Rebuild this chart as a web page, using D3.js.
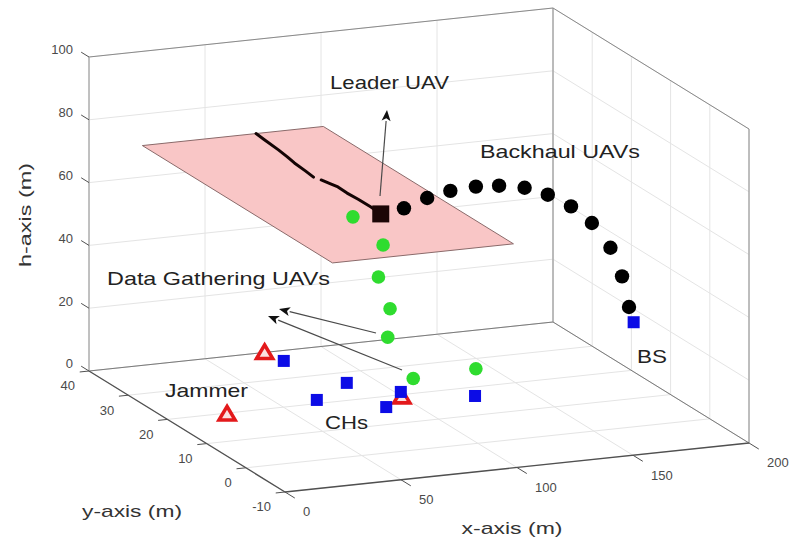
<!DOCTYPE html>
<html>
<head>
<meta charset="utf-8">
<script src="https://cdn.jsdelivr.net/npm/d3@7"></script>
<style>
  html, body { margin: 0; padding: 0; background: #fff; }
  svg { display: block; font-family: "Liberation Sans", Arial, Helvetica, sans-serif; }
</style>
</head>
<body>
<svg id="chart" width="792" height="546"></svg>
<script>
// ---- axis ranges and ticks ----
const xDomain = [0, 200];
const yDomain = [-10, 40];
const hDomain = [0, 100];
const xTicks = [0, 50, 100, 150, 200];
const yTicks = [-10, 0, 10, 20, 30, 40];
const hTicks = [0, 20, 40, 60, 80, 100];

// ---- cluster heads (ground, h = 0) ----
const chX = [77.7, 87.8, 66.6, 87.9, 102.3, 127.2];
const chY = [36.3, 26.2, 21.3, 16.2, 21.0, 16.8];
const chH = [0, 0, 0, 0, 0, 0];

// ---- jammers (ground) ----
const jammerX = [75.7, 25.2, 99.7];
const jammerY = [40, 19.7, 19.2];
const jammerH = [0, 0, 0];

// ---- base station ----
const bsX = [179];
const bsY = [7];
const bsH = [27];

// ---- leader UAV ----
const leaderX = [70];
const leaderY = [7];
const leaderH = [70];

// ---- leader trajectory over the flight plane (h = 70), two pieces ----
const pathAX = [72, 71.4, 70.5, 69.6, 68.6, 67.9, 67.2];
const pathAY = [40, 37.6, 33.4, 30.6, 28.2, 25.0, 22.5];
const pathBX = [68.3, 69.4, 70.3, 70.0, 70.4, 70.5, 70];
const pathBY = [21.2, 19.6, 18.1, 15.6, 13.0, 9.8, 7];
const pathH = 70;

// ---- backhaul UAV chain (y = 7) ----
const backhaulX = [80, 90, 100, 111, 121, 132, 142, 152, 161, 169, 174, 177];
const backhaulY = [7, 7, 7, 7, 7, 7, 7, 7, 7, 7, 7, 7];
const backhaulH = [71, 73.5, 75, 75.5, 75, 73.5, 70.5, 66, 60, 51.5, 42, 32];

// ---- data gathering UAVs ----
const gatherX = [58, 71, 69, 74, 73, 84, 111];
const gatherY = [7, 7, 7, 7, 7, 7, 7];
const gatherH = [70, 60, 50, 39.5, 30.5, 16.5, 17.5];

// ---- flight plane corners ----
const planeX = [23, 101, 101, 23];
const planeY = [40, 40, -8.5, -8.5];
const planeH = [70, 70, 70, 70];

// ---- annotation texts ----
const labelTexts = ["Leader UAV", "Backhaul UAVs", "Data Gathering UAVs", "Jammer", "CHs", "BS"];

// ================= projection =================
const svg = d3.select("#chart");
const xScale = d3.scaleLinear().domain(xDomain).range([0, 1]);
const yScale = d3.scaleLinear().domain(yDomain).range([0, 1]);
const hScale = d3.scaleLinear().domain(hDomain).range([0, 1]);

// screen position of (x=0, y=-10, h=0) and the screen span of each full axis
const origin = [285, 492];
const xVec = [464, -49];
const yVec = [-196, -121];
const hVec = [0, -314];

function project(x, y, h) {
  const a = xScale(x), b = yScale(y), c = hScale(h);
  return [origin[0] + a * xVec[0] + b * yVec[0] + c * hVec[0],
          origin[1] + a * xVec[1] + b * yVec[1] + c * hVec[1]];
}
const line = d3.line();
const zip3 = (X, Y, H) => X.map((v, i) => ({ x: v, y: Y[i], h: H[i] }));

function seg(g, a, b, color, width) {
  const p = project(...a), q = project(...b);
  g.append("line")
    .attr("x1", p[0]).attr("y1", p[1]).attr("x2", q[0]).attr("y2", q[1])
    .attr("stroke", color).attr("stroke-width", width);
}

const [x0, x1] = xDomain, [y0, y1] = yDomain, [h0, h1] = hDomain;

// ---- grid on floor and the two back walls ----
const grid = svg.append("g");
const gridColor = "#e4e4e4";
xTicks.forEach(x => {
  seg(grid, [x, y0, h0], [x, y1, h0], gridColor, 1);
  seg(grid, [x, y1, h0], [x, y1, h1], gridColor, 1);
});
yTicks.forEach(y => {
  seg(grid, [x0, y, h0], [x1, y, h0], gridColor, 1);
  seg(grid, [x1, y, h0], [x1, y, h1], gridColor, 1);
});
hTicks.forEach(h => {
  seg(grid, [x0, y1, h], [x1, y1, h], gridColor, 1);
  seg(grid, [x1, y0, h], [x1, y1, h], gridColor, 1);
});

// ---- box edges ----
const box = svg.append("g");
const edgeColor = "#8a8a8a";
seg(box, [x0, y1, h0], [x1, y1, h0], "#7a7a7a", 1);
seg(box, [x1, y1, h0], [x1, y0, h0], "#7a7a7a", 1);
seg(box, [x1, y1, h0], [x1, y1, h1], edgeColor, 1);
seg(box, [x1, y0, h0], [x1, y0, h1], edgeColor, 1);
seg(box, [x0, y1, h1], [x1, y1, h1], edgeColor, 1);
seg(box, [x1, y1, h1], [x1, y0, h1], edgeColor, 1);
// axis lines
const axisColor = "#505050";
seg(box, [x0, y0, h0], [x1, y0, h0], axisColor, 1.3);
seg(box, [x0, y0, h0], [x0, y1, h0], axisColor, 1.3);
seg(box, [x0, y1, h0], [x0, y1, h1], "#a0a0a0", 1.2);

// ---- ticks and tick labels ----
const tickFont = 13, tickColor = "#4a4a4a";
const ticks = svg.append("g");
xTicks.forEach(x => {
  seg(ticks, [x, y0, h0], [x, y0 - 2.5, h0], axisColor, 1);
  const p = project(x, y0, h0);
  ticks.append("text").attr("x", p[0] + 18).attr("y", p[1] + 21)
    .attr("dominant-baseline", "middle").attr("font-size", tickFont)
    .attr("fill", tickColor).text(x);
});
yTicks.forEach(y => {
  seg(ticks, [x0, y, h0], [x0 - 4, y, h0], axisColor, 1);
  const p = project(x0, y, h0);
  ticks.append("text").attr("x", p[0] - 14).attr("y", p[1] + 16)
    .attr("text-anchor", "end").attr("dominant-baseline", "middle")
    .attr("font-size", tickFont).attr("fill", tickColor).text(y);
});
hTicks.forEach(h => {
  seg(ticks, [x0, y1, h], [x0, y1 + 2, h], axisColor, 1);
  const p = project(x0, y1, h);
  ticks.append("text").attr("x", p[0] - 16).attr("y", p[1] - 6)
    .attr("text-anchor", "end").attr("dominant-baseline", "middle")
    .attr("font-size", tickFont).attr("fill", tickColor).text(h);
});

// ---- axis titles ----
const titleFont = 17, titleColor = "#333";
svg.append("text").attr("x", 512).attr("y", 530).attr("text-anchor", "middle")
  .attr("dominant-baseline", "middle").attr("font-size", titleFont).attr("fill", titleColor)
  .attr("textLength", 101).attr("lengthAdjust", "spacingAndGlyphs").text("x-axis (m)");
svg.append("text").attr("x", 132).attr("y", 513).attr("text-anchor", "middle")
  .attr("dominant-baseline", "middle").attr("font-size", titleFont).attr("fill", titleColor)
  .attr("textLength", 100).attr("lengthAdjust", "spacingAndGlyphs").text("y-axis (m)");
svg.append("text").attr("transform", "translate(27,215) rotate(-90)").attr("text-anchor", "middle")
  .attr("dominant-baseline", "middle").attr("font-size", titleFont).attr("fill", titleColor)
  .attr("textLength", 104).attr("lengthAdjust", "spacingAndGlyphs").text("h-axis (m)");

// ---- flight plane ----
const plane = zip3(planeX, planeY, planeH).map(d => project(d.x, d.y, d.h));
svg.append("path").attr("d", line(plane) + "Z")
  .attr("fill", "#f9c6c6").attr("stroke", "#8a6a6a").attr("stroke-width", 1);

// ---- leader trajectory ----
[[pathAX, pathAY], [pathBX, pathBY]].forEach(([PX, PY]) => {
  const pts = PX.map((v, i) => project(v, PY[i], pathH));
  svg.append("path").attr("d", line(pts)).attr("fill", "none")
    .attr("stroke", "#140404").attr("stroke-width", 3).attr("stroke-linejoin", "round")
    .attr("stroke-linecap", "round");
});

// ---- jammers ----
const tri = "M0,-7.5 L8,6 L-8,6 Z";
svg.append("g").selectAll("path").data(zip3(jammerX, jammerY, jammerH)).join("path")
  .attr("transform", d => `translate(${project(d.x, d.y, d.h)})`)
  .attr("d", tri).attr("fill", "#fbe0e0").attr("stroke", "#e3191b").attr("stroke-width", 3.6)
  .attr("stroke-linejoin", "miter");

// ---- cluster heads ----
const chSide = 12;
svg.append("g").selectAll("rect").data(zip3(chX, chY, chH)).join("rect")
  .attr("x", d => project(d.x, d.y, d.h)[0] - chSide / 2)
  .attr("y", d => project(d.x, d.y, d.h)[1] - chSide / 2)
  .attr("width", chSide).attr("height", chSide).attr("fill", "#0c0ce6");

// ---- data gathering UAVs ----
svg.append("g").selectAll("circle").data(zip3(gatherX, gatherY, gatherH)).join("circle")
  .attr("cx", d => project(d.x, d.y, d.h)[0])
  .attr("cy", d => project(d.x, d.y, d.h)[1])
  .attr("r", 6.8).attr("fill", "#2fdc2f");

// ---- backhaul chain ----
svg.append("g").selectAll("circle").data(zip3(backhaulX, backhaulY, backhaulH)).join("circle")
  .attr("cx", d => project(d.x, d.y, d.h)[0])
  .attr("cy", d => project(d.x, d.y, d.h)[1])
  .attr("r", 7.2).attr("fill", "#000");

// ---- base station ----
svg.append("g").selectAll("rect").data(zip3(bsX, bsY, bsH)).join("rect")
  .attr("x", d => project(d.x, d.y, d.h)[0] - chSide / 2)
  .attr("y", d => project(d.x, d.y, d.h)[1] - chSide / 2)
  .attr("width", chSide).attr("height", chSide).attr("fill", "#0c0ce6");

// ---- leader UAV ----
const leadSide = 17;
svg.append("g").selectAll("rect").data(zip3(leaderX, leaderY, leaderH)).join("rect")
  .attr("x", d => project(d.x, d.y, d.h)[0] - leadSide / 2)
  .attr("y", d => project(d.x, d.y, d.h)[1] - leadSide / 2)
  .attr("width", leadSide).attr("height", leadSide).attr("fill", "#1c0606");

// ---- annotation arrows ----
const arrows = [
  { from: [380, 196], to: [387, 110] },
  { from: [376, 333], to: [279, 309] },
  { from: [402, 370], to: [268, 316] }
];
const ann = svg.append("g");
arrows.forEach(a => {
  const [fx, fy] = a.from, [tx, ty] = a.to;
  const ang = Math.atan2(ty - fy, tx - fx);
  const len = 11, half = 4.5;
  const bx = tx - len * Math.cos(ang), by = ty - len * Math.sin(ang);
  ann.append("line").attr("x1", fx).attr("y1", fy).attr("x2", bx).attr("y2", by)
    .attr("stroke", "#4a4a4a").attr("stroke-width", 1.2);
  const nx = -Math.sin(ang), ny = Math.cos(ang);
  ann.append("path")
    .attr("d", `M${tx},${ty} L${bx + half * nx},${by + half * ny} L${bx + len * 0.25 * Math.cos(ang)},${by + len * 0.25 * Math.sin(ang)} L${bx - half * nx},${by - half * ny} Z`)
    .attr("fill", "#111");
});

// ---- annotation labels ----
const labelPos = [[330, 84, 119], [480, 153, 160], [107, 280, 223], [165, 392, 83], [325, 424, 43], [637, 358, 30]];
labelTexts.forEach((t, i) => {
  const [lx, ly, lw] = labelPos[i];
  ann.append("text").attr("x", lx).attr("y", ly).attr("dominant-baseline", "middle")
    .attr("font-size", 19).attr("fill", "#222")
    .attr("textLength", lw).attr("lengthAdjust", "spacingAndGlyphs").text(t);
});
</script>
</body>
</html>
